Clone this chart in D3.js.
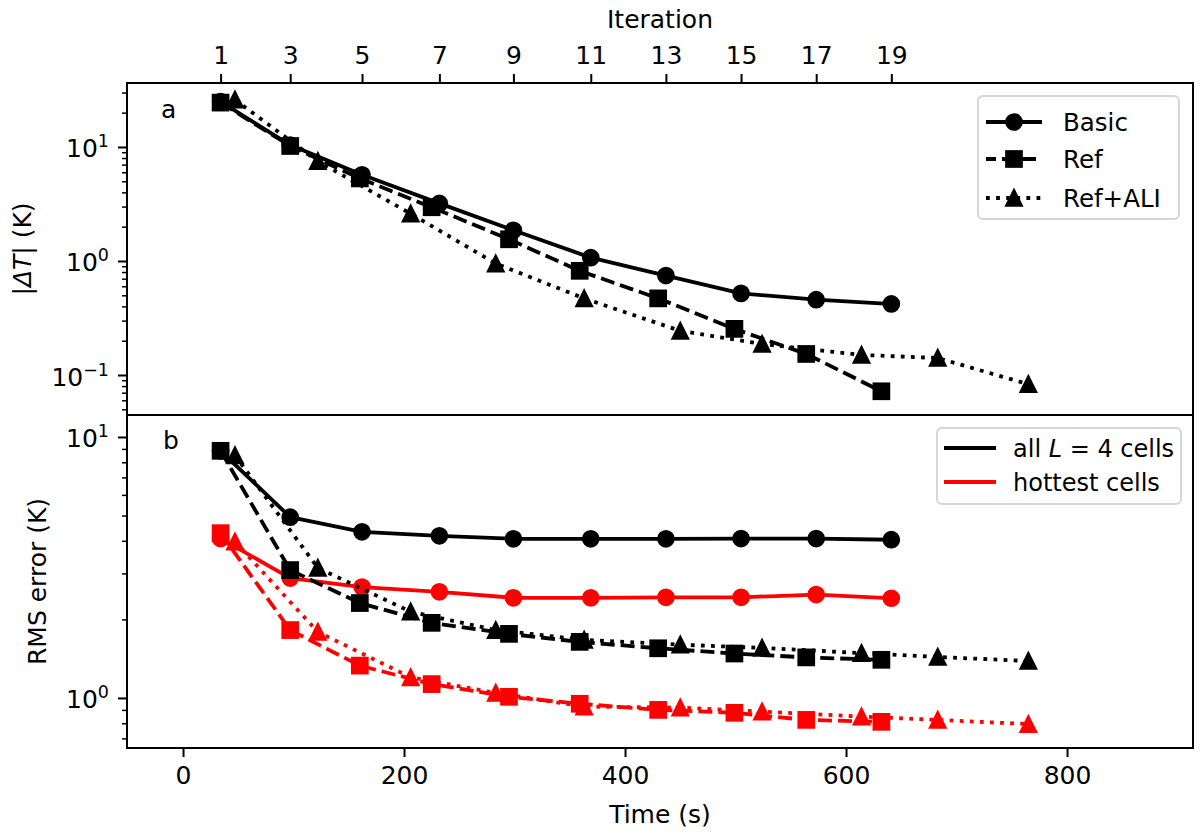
<!DOCTYPE html>
<html>
<head>
<meta charset="utf-8">
<script src="https://cdn.jsdelivr.net/npm/d3@7"></script>
<style>
  body { margin: 0; background: #fff; }
  text { font-family: "DejaVu Sans", sans-serif; fill: #000; }
</style>
</head>
<body>
<script>
// iteration labels on the top axis (placed at the Basic run times)
let iterLabels = ["1", "3", "5", "7", "9", "11", "13", "15", "17", "19"];

// wall-clock time (s) of each stored iteration
let timeBasic = [34, 97, 162, 232, 299, 369, 437, 505, 573, 641];
let timeRef   = [34, 97, 160, 225, 295, 359, 430, 499, 564, 632];
let timeAli   = [47, 122, 206, 283, 363, 450, 524, 614, 683, 765];

// panel a: |dT| (K)
let dtBasic = [25, 10.4, 5.7, 3.2, 1.86, 1.07, 0.745, 0.52, 0.458, 0.42];
let dtRef   = [24.5, 10.2, 5.3, 2.96, 1.55, 0.82, 0.47, 0.254, 0.153, 0.072];
let dtAli   = [26, 7.5, 2.6, 0.95, 0.47, 0.244, 0.187, 0.15, 0.141, 0.083];

// panel b: RMS error (K), all L=4 cells
let rmsAllBasic = [8.84, 4.93, 4.33, 4.18, 4.07, 4.07, 4.07, 4.08, 4.08, 4.04];
let rmsAllRef   = [8.85, 3.09, 2.31, 1.94, 1.76, 1.64, 1.55, 1.48, 1.43, 1.40];
let rmsAllAli   = [8.5, 3.15, 2.14, 1.82, 1.67, 1.60, 1.555, 1.486, 1.435, 1.386];

// panel b: RMS error (K), hottest cells
let rmsHotBasic = [4.08, 2.88, 2.66, 2.55, 2.42, 2.42, 2.43, 2.43, 2.49, 2.41];
let rmsHotRef   = [4.28, 1.82, 1.33, 1.13, 1.01, 0.95, 0.90, 0.877, 0.824, 0.81];
let rmsHotAli   = [3.97, 1.79, 1.20, 1.045, 0.927, 0.918, 0.887, 0.848, 0.824, 0.794];

let xTicks = [0, 200, 400, 600, 800];
let legendA = ["Basic", "Ref", "Ref+ALI"];

let W = 1200, H = 834;
let left = 127, right = 1193, topA = 83, mid = 415, botB = 748;
let fs = 25;

let svg = d3.select("body").append("svg").attr("width", W).attr("height", H);

let x = d3.scaleLinear().domain([-50.7, 914]).range([left, right]);
let yA = d3.scaleLog().domain([0.0446, 36.4]).range([mid, topA]);
let yB = d3.scaleLog().domain([0.643, 12.14]).range([botB, mid]);

let styles = {
  Basic: { dash: null, marker: "circle" },
  Ref:   { dash: "14,6", marker: "square" },
  Ali:   { dash: "3.8,6.3", marker: "triangle" }
};

function drawMarker(sel, type, color) {
  let s = 7.6;
  if (type == "circle") {
    sel.append("circle").attr("r", s);
  } else if (type == "square") {
    sel.append("rect").attr("x", -s).attr("y", -s).attr("width", 2 * s).attr("height", 2 * s);
  } else {
    sel.append("path").attr("d", "M0," + (-s) + "L" + s + "," + s + "L" + (-s) + "," + s + "Z");
  }
  sel.selectAll("circle,rect,path")
    .attr("fill", color).attr("stroke", color).attr("stroke-width", 2.5)
    .attr("stroke-linejoin", "miter");
}

function drawSeries(yScale, times, vals, color, st) {
  let pts = times.map(function(t, i) { return [t, vals[i]]; });
  let line = d3.line().x(function(d) { return x(d[0]); }).y(function(d) { return yScale(d[1]); });
  let g = svg.append("g");
  g.append("path")
    .attr("d", line(pts))
    .attr("fill", "none")
    .attr("stroke", color)
    .attr("stroke-width", 3.8)
    .attr("stroke-linejoin", "round")
    .attr("stroke-linecap", st.dash ? "butt" : "square")
    .attr("stroke-dasharray", st.dash);
  g.selectAll("g.m")
    .data(pts)
    .enter().append("g")
      .attr("class", "m")
      .attr("transform", function(d) { return "translate(" + x(d[0]) + "," + yScale(d[1]) + ")"; })
      .each(function() { drawMarker(d3.select(this), st.marker, color); });
}

// y axes (log) with major and minor ticks
function yAxis(yScale) {
  let all = yScale.ticks();
  let major = all.filter(function(d) { return Math.abs(Math.log10(d) - Math.round(Math.log10(d))) < 1e-9; });
  let minor = all.filter(function(d) { return major.indexOf(d) < 0; });
  let g1 = svg.append("g").attr("transform", "translate(" + left + ",0)")
    .call(d3.axisLeft(yScale).tickValues(major).tickSize(9).tickFormat(""));
  let g2 = svg.append("g").attr("transform", "translate(" + left + ",0)")
    .call(d3.axisLeft(yScale).tickValues(minor).tickSize(5).tickFormat(""));
  g1.select(".domain").remove();
  g2.select(".domain").remove();
  g1.selectAll("line").attr("stroke-width", 2);
  g2.selectAll("line").attr("stroke-width", 1.5);

  let lab = svg.append("g").selectAll("text")
    .data(major)
    .enter().append("text")
      .attr("x", left - 9 - 9)
      .attr("y", function(d) { return yScale(d) + 10.5; })
      .attr("text-anchor", "end")
      .style("font-size", fs + "px");
  lab.append("tspan").text("10");
  lab.append("tspan")
    .attr("dy", -10)
    .style("font-size", "17.5px")
    .text(function(d) { let e = Math.round(Math.log10(d)); return e < 0 ? "\u2212" + (-e) : "" + e; });
}

yAxis(yA);
yAxis(yB);

// bottom x axis
let gx = svg.append("g").attr("transform", "translate(0," + botB + ")")
  .call(d3.axisBottom(x).tickValues(xTicks).tickSize(9).tickPadding(9).tickFormat(d3.format("d")));
gx.select(".domain").remove();
gx.selectAll("line").attr("stroke-width", 2);
gx.selectAll("text").style("font-size", fs + "px").attr("font-family", "DejaVu Sans");

// top iteration axis
let gt = svg.append("g").attr("transform", "translate(0," + topA + ")")
  .call(d3.axisTop(x).tickValues(timeBasic).tickSize(9).tickPadding(10)
    .tickFormat(function(d, i) { return iterLabels[i]; }));
gt.select(".domain").remove();
gt.selectAll("line").attr("stroke-width", 2);
gt.selectAll("text").style("font-size", fs + "px").attr("font-family", "DejaVu Sans");

// series
drawSeries(yA, timeBasic, dtBasic, "#000", styles.Basic);
drawSeries(yA, timeRef, dtRef, "#000", styles.Ref);
drawSeries(yA, timeAli, dtAli, "#000", styles.Ali);

drawSeries(yB, timeBasic, rmsAllBasic, "#000", styles.Basic);
drawSeries(yB, timeBasic, rmsHotBasic, "#ff0000", styles.Basic);
drawSeries(yB, timeRef, rmsAllRef, "#000", styles.Ref);
drawSeries(yB, timeRef, rmsHotRef, "#ff0000", styles.Ref);
drawSeries(yB, timeAli, rmsAllAli, "#000", styles.Ali);
drawSeries(yB, timeAli, rmsHotAli, "#ff0000", styles.Ali);

// frames
svg.append("rect").attr("x", left).attr("y", topA).attr("width", right - left).attr("height", mid - topA)
  .attr("fill", "none").attr("stroke", "#000").attr("stroke-width", 2);
svg.append("rect").attr("x", left).attr("y", mid).attr("width", right - left).attr("height", botB - mid)
  .attr("fill", "none").attr("stroke", "#000").attr("stroke-width", 2);

// panel letters
svg.append("text").attr("x", 161).attr("y", 118).style("font-size", fs + "px").text("a");
svg.append("text").attr("x", 163).attr("y", 449).style("font-size", fs + "px").text("b");

// axis titles
svg.append("text").attr("x", (left + right) / 2).attr("y", 28).attr("text-anchor", "middle")
  .style("font-size", fs + "px").text("Iteration");
svg.append("text").attr("x", (left + right) / 2).attr("y", 823).attr("text-anchor", "middle")
  .style("font-size", fs + "px").text("Time (s)");

let ylA = svg.append("text")
  .attr("transform", "translate(22," + ((topA + mid) / 2) + ") rotate(-90)")
  .attr("text-anchor", "middle").attr("dominant-baseline", "central")
  .style("font-size", fs + "px");
ylA.append("tspan").text("|");
ylA.append("tspan").style("font-style", "italic").text("\u0394T");
ylA.append("tspan").text("| (K)");

svg.append("text")
  .attr("transform", "translate(37," + ((mid + botB) / 2) + ") rotate(-90)")
  .attr("text-anchor", "middle").attr("dominant-baseline", "central")
  .style("font-size", fs + "px").text("RMS error (K)");

// legend a
svg.append("rect").attr("x", 978).attr("y", 96).attr("width", 201).attr("height", 123).attr("rx", 5)
  .attr("fill", "#fff").attr("fill-opacity", 0.8).attr("stroke", "#d6d6d6").attr("stroke-width", 2);
let legStyles = [styles.Basic, styles.Ref, styles.Ali];
let rowsA = [122, 159, 198];
legendA.forEach(function(name, i) {
  let st = legStyles[i];
  svg.append("line").attr("x1", 986).attr("x2", 1042).attr("y1", rowsA[i]).attr("y2", rowsA[i])
    .attr("stroke", "#000").attr("stroke-width", 3.8)
    .attr("stroke-dasharray", st.dash)
    .attr("stroke-dashoffset", st.marker == "square" ? 4 : 0);
  let m = svg.append("g").attr("transform", "translate(1014," + rowsA[i] + ")");
  drawMarker(m, st.marker, "#000");
  svg.append("text").attr("x", 1063).attr("y", rowsA[i] + 9).style("font-size", "24.5px").text(name);
});

// legend b
svg.append("rect").attr("x", 937).attr("y", 428).attr("width", 244).attr("height", 76).attr("rx", 5)
  .attr("fill", "#fff").attr("fill-opacity", 0.8).attr("stroke", "#d6d6d6").attr("stroke-width", 2);
let rowsB = [448, 482];
let colsB = ["#000", "#ff0000"];
rowsB.forEach(function(yy, i) {
  svg.append("line").attr("x1", 944).attr("x2", 996).attr("y1", yy).attr("y2", yy)
    .attr("stroke", colsB[i]).attr("stroke-width", 3.8);
});
let tb1 = svg.append("text").attr("x", 1013).attr("y", rowsB[0] + 8.5).style("font-size", "24px");
tb1.append("tspan").text("all ");
tb1.append("tspan").style("font-style", "italic").text("L");
tb1.append("tspan").text(" = 4 cells");
svg.append("text").attr("x", 1013).attr("y", rowsB[1] + 8.5).style("font-size", "24px").text("hottest cells");
</script>
</body>
</html>
